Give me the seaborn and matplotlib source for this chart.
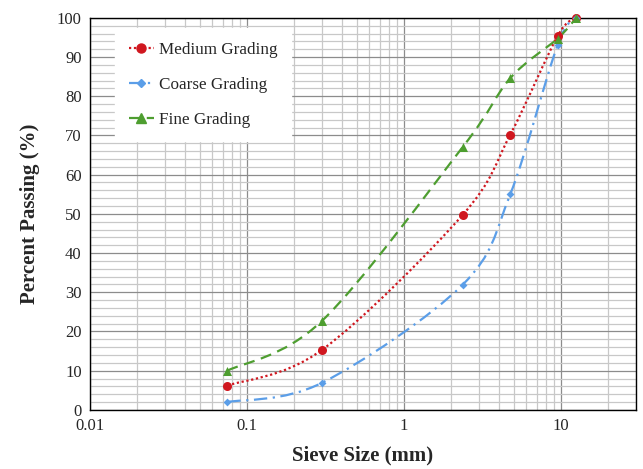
import numpy as np
import pandas as pd
import matplotlib
matplotlib.use('Agg')
import matplotlib.pyplot as plt
from matplotlib.path import Path
from matplotlib.patches import PathPatch
from matplotlib.lines import Line2D
from matplotlib.ticker import LogLocator, FixedLocator, NullFormatter
import seaborn as sns

sieve = [0.075, 0.3, 2.36, 4.75, 9.5, 12.5]
medium = [6.2, 15.3, 49.7, 70.2, 95.3, 100]
coarse = [2.0, 6.9, 31.9, 55.0, 93.0, 100]
fine = [10.0, 22.7, 67.0, 84.6, 94.7, 100]

series_names = ['Medium Grading', 'Coarse Grading', 'Fine Grading']
colors = ['#D0171F', '#5B9EE8', '#4E9E30']
markers = ['o', 'D', '^']
msizes = [6.5, 4, 6.5]
styles = [(0, (1, 1.2)), (0, (6, 2.5, 1, 2.5)), (0, (5, 3))]

sns.set_style('white')
plt.rcParams['font.family'] = ['Liberation Serif', 'DejaVu Serif']

df = pd.DataFrame({'Sieve': sieve * 3,
                   'Passing': medium + coarse + fine,
                   'Grading': [n for n in series_names for _ in sieve]})

fig = plt.figure(figsize=(6.43, 4.69), dpi=100)
ax = fig.add_axes([0.14, 0.126, 0.849, 0.836])
ax.set_xscale('log')


def smooth_path(xs, ys):
    # Excel-like smoothed line: cubic Bezier segments in log-x space
    u = np.log10(xs)
    v = np.array(ys, dtype=float)
    pts = np.column_stack([u, v])
    n = len(pts)
    verts = [pts[0]]
    codes = [Path.MOVETO]
    for i in range(n - 1):
        p0 = pts[i - 1] if i > 0 else pts[i]
        p1 = pts[i]
        p2 = pts[i + 1]
        p3 = pts[i + 2] if i + 2 < n else pts[i + 1]
        c1 = p1 + (p2 - p0) / 6.0
        c2 = p2 - (p3 - p1) / 6.0
        verts += [c1, c2, p2]
        codes += [Path.CURVE4] * 3
    verts = np.array(verts)
    verts[:, 0] = 10 ** verts[:, 0]
    return Path(verts, codes)


handles = []
for name, col, mk, ms, ls in zip(series_names, colors, markers, msizes, styles):
    sub = df[df['Grading'] == name]
    patch = PathPatch(smooth_path(sub['Sieve'].values, sub['Passing'].values),
                      facecolor='none', edgecolor=col, lw=1.6, linestyle=ls, zorder=3)
    ax.add_patch(patch)
    sns.scatterplot(data=sub, x='Sieve', y='Passing', ax=ax, color=col, marker=mk,
                    s=ms ** 2, edgecolor=col, linewidth=0, zorder=4, legend=False,
                    clip_on=False)
    handles.append(Line2D([], [], color=col, marker=mk, markersize=ms, lw=1.6,
                          linestyle=ls, label=name))

ax.set_xlim(0.01, 30)
ax.set_ylim(0, 100)
ax.xaxis.set_major_locator(FixedLocator([0.01, 0.1, 1, 10]))
ax.set_xticklabels(['0.01', '0.1', '1', '10'])
ax.xaxis.set_minor_locator(LogLocator(base=10, subs=np.arange(2, 10)))
ax.xaxis.set_minor_formatter(NullFormatter())
ax.set_yticks(np.arange(0, 101, 10))
ax.yaxis.set_minor_locator(FixedLocator(np.arange(0, 101, 2)))

ax.grid(which='major', color='#8c8c8c', lw=0.9, zorder=0)
ax.grid(which='minor', color='#c8c8c8', lw=0.9, zorder=0)
ax.set_axisbelow(True)
ax.tick_params(which='both', length=0, labelsize=12, pad=6)
for s in ax.spines.values():
    s.set_color('black')
    s.set_linewidth(1.0)

ax.set_xlabel('Sieve Size (mm)', fontsize=15, fontweight='bold', labelpad=8)
ax.set_ylabel('Percent Passing (%)', fontsize=15, fontweight='bold', labelpad=12)

leg = ax.legend(handles=handles, loc='upper left', bbox_to_anchor=(0.03, 0.995),
                fontsize=12.3, frameon=True, fancybox=False, edgecolor='white',
                framealpha=1, labelspacing=1.1, handlelength=1.5, handletextpad=0.25,
                borderpad=0.8)

fig.savefig('out.png', dpi=100)
